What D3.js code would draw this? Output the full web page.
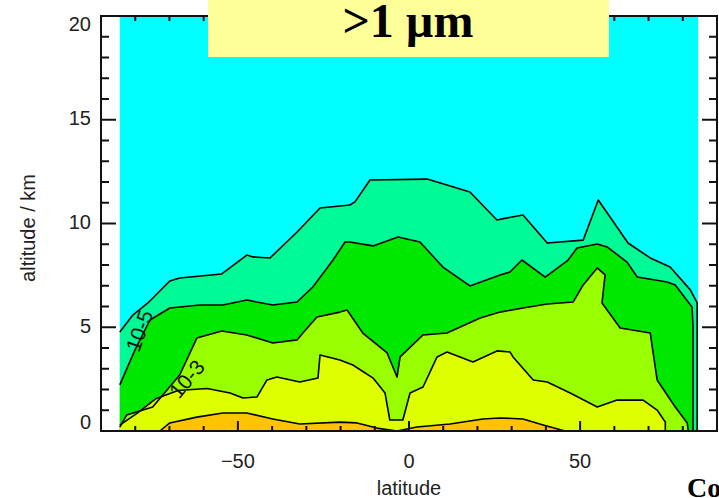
<!DOCTYPE html>
<html>
<head>
<meta charset="utf-8">
<script src="https://d3js.org/d3.v7.min.js"></script>
<style>
  body { margin: 0; background: #fff; }
  .tick-label { font-family: "Liberation Sans", Arial, sans-serif; font-size: 20px; fill: #222; }
</style>
</head>
<body>
<svg width="719" height="498"></svg>
<script>
// contour lines, [latitude, altitude km], bottom-up order of the bands they close
const contourA = [[-84.5,4.77],[-80.7,5.59],[-76.3,6.17],[-69.9,7.23],[-67.0,7.37],[-54.7,7.57],[-47.4,8.48],[-45.6,8.39],[-40.6,8.34],[-32.7,9.59],[-26.0,10.75],[-17.3,10.89],[-15.8,11.04],[-11.4,12.1],[5.3,12.14],[17.8,11.52],[25.7,10.17],[28.7,10.27],[33.3,10.41],[40.4,9.06],[50.9,9.2],[55.3,11.13],[64.0,9.06],[70.5,8.34],[76.3,7.9],[82.2,6.8],[84.2,6.17],[84.2,0]];
const contourB = [[-84.5,2.22],[-80.1,3.9],[-75.7,5.35],[-69.9,5.93],[-61.1,6.07],[-54.4,6.07],[-47.4,6.31],[-39.8,6.07],[-32.7,6.22],[-28.1,6.94],[-22.2,8.24],[-18.7,9.11],[-17.3,9.11],[-10.5,8.92],[-3.2,9.35],[3.2,9.11],[9.9,7.9],[17.8,6.99],[26.6,7.52],[29.5,7.66],[33.0,8.24],[39.8,7.42],[46.5,8.24],[49.1,8.82],[55.0,9.01],[57.9,8.87],[63.7,8.14],[66.7,7.42],[75.4,7.18],[77.8,7.04],[82.7,5.98],[83.0,5.01],[83.0,0]];
const contourC = [[-84.5,0.19],[-82.5,0.77],[-74.9,1.16],[-67.0,2.7],[-62.0,4.48],[-54.7,4.82],[-47.4,4.63],[-39.8,4.24],[-32.7,4.39],[-31.0,4.72],[-26.9,5.49],[-20.2,5.73],[-18.1,5.83],[-13.5,4.72],[-6.4,3.76],[-3.5,2.6],[-2.6,3.57],[4.1,4.63],[11.1,4.72],[20.8,5.45],[26.6,5.73],[33.3,5.93],[40.4,6.12],[48.0,6.22],[50.9,7.04],[55.0,7.86],[57.3,7.52],[56.4,6.17],[61.7,4.96],[70.5,4.72],[72.5,2.46],[77.8,1.16],[81.3,0.39],[81.6,0]];
const contourD = [[-84.5,0.28],[-79.5,0.85],[-74.0,1.55],[-67.5,1.95],[-59.0,2.05],[-52.3,1.83],[-48.5,1.59],[-44.4,1.64],[-41.5,2.46],[-38.6,2.6],[-31.9,2.36],[-26.6,2.55],[-26.0,3.66],[-20.2,3.42],[-16.4,3.18],[-10.5,2.55],[-7.0,1.83],[-5.6,0.53],[-1.8,0.53],[0.3,1.83],[4.1,2.12],[8.2,3.57],[11.1,3.81],[18.7,3.33],[25.7,3.86],[29.5,3.81],[30.4,3.57],[36.3,2.46],[40.4,2.36],[47.1,1.83],[55.0,1.16],[60.8,1.49],[68.4,1.49],[72.5,1.01],[74.9,0.43],[74.9,0]];
const contourE = [[-72.8,0],[-69.9,0.39],[-62.0,0.67],[-54.4,0.87],[-47.4,0.87],[-39.8,0.58],[-31.9,0.34],[-20.2,0.43],[-15.2,0.39],[-9.4,0.14],[-3.5,0],[2.3,0.19],[12.0,0.34],[21.6,0.58],[26.6,0.63],[33.3,0.58],[39.2,0.29],[45.6,0]];

const contours = [contourA, contourB, contourC, contourD, contourE];
const bandColors = ["#00fa96", "#00e800", "#99ff00", "#ddff00", "#ffc400"];
const topColor = "#00ffff";
const latRange = [-84.5, 84.5];

const contourLabels = [
  { text: "10-5", lat: -78.3, alt: 4.8, angle: -70 },
  { text: "10-3", lat: -64.5, alt: 2.45, angle: -50 }
];

const xTicks = [-50, 0, 50];
const yTicks = [0, 5, 10, 15, 20];
const titleText = ">1 \u00b5m";

const svg = d3.select("svg");
const x = d3.scaleLinear().domain([-90, 90]).range([101, 717]);
const y = d3.scaleLinear().domain([0, 20]).range([431, 16]);

// data background
svg.append("rect")
  .attr("x", x(latRange[0])).attr("y", y(20))
  .attr("width", x(latRange[1]) - x(latRange[0]))
  .attr("height", y(0) - y(20))
  .attr("fill", topColor);

const line = d3.line().x(d => x(d[0])).y(d => y(d[1]));

contours.forEach((c, i) => {
  const poly = [[c[0][0], 0], ...c, [c[c.length - 1][0], 0]];
  svg.append("path")
    .attr("d", line(poly) + "Z")
    .attr("fill", bandColors[i]);
});
contours.forEach(c => {
  svg.append("path")
    .attr("d", line(c))
    .attr("fill", "none")
    .attr("stroke", "#000")
    .attr("stroke-width", 1.6)
    .attr("stroke-linejoin", "round");
});

contourLabels.forEach(l => {
  svg.append("text")
    .attr("transform", `translate(${x(l.lat)},${y(l.alt)}) rotate(${l.angle})`)
    .attr("text-anchor", "middle")
    .attr("dominant-baseline", "middle")
    .attr("font-family", "Liberation Sans, Arial, sans-serif")
    .attr("font-size", 21)
    .attr("fill", "#111")
    .text(l.text);
});

// frame with ticks on all sides
const frame = svg.append("g").attr("stroke", "#111").attr("stroke-width", 2);
frame.append("rect")
  .attr("x", x(-90)).attr("y", y(20))
  .attr("width", x(90) - x(-90)).attr("height", y(0) - y(20))
  .attr("fill", "none");

d3.range(-90, 91, 10).forEach(v => {
  const len = v % 50 === 0 ? 10 : 5;
  frame.append("line").attr("x1", x(v)).attr("x2", x(v)).attr("y1", y(0)).attr("y2", y(0) - len);
  frame.append("line").attr("x1", x(v)).attr("x2", x(v)).attr("y1", y(20)).attr("y2", y(20) + len);
});
d3.range(0, 21, 1).forEach(v => {
  const len = v % 5 === 0 ? 15 : 8;
  frame.append("line").attr("x1", x(-90)).attr("x2", x(-90) + len).attr("y1", y(v)).attr("y2", y(v));
  frame.append("line").attr("x1", x(90)).attr("x2", x(90) - len).attr("y1", y(v)).attr("y2", y(v));
});

svg.selectAll(".ylab").data(yTicks).enter().append("text")
  .attr("class", "tick-label")
  .attr("x", 91)
  .attr("y", d => Math.min(Math.max(y(d), 26), 424))
  .attr("text-anchor", "end")
  .attr("dominant-baseline", "middle")
  .text(d => d);

svg.selectAll(".xlab").data(xTicks).enter().append("text")
  .attr("class", "tick-label")
  .attr("x", d => x(d))
  .attr("y", 468)
  .attr("text-anchor", "middle")
  .text(d => d < 0 ? "\u2212" + Math.abs(d) : d);

svg.append("text")
  .attr("class", "tick-label")
  .attr("transform", "translate(35,228) rotate(-90)")
  .attr("text-anchor", "middle")
  .text("altitude / km");

svg.append("text")
  .attr("class", "tick-label")
  .attr("x", 409).attr("y", 495)
  .attr("text-anchor", "middle")
  .text("latitude");

// title box
svg.append("rect")
  .attr("x", 208).attr("y", 0).attr("width", 401).attr("height", 57)
  .attr("fill", "#ffff99");
svg.append("text")
  .attr("x", 408).attr("y", 37)
  .attr("text-anchor", "middle")
  .attr("font-family", "Liberation Serif, Times New Roman, serif")
  .attr("font-weight", "bold")
  .attr("font-size", 48)
  .attr("fill", "#000")
  .text(titleText);

svg.append("text")
  .attr("x", 687).attr("y", 497)
  .attr("font-family", "Liberation Serif, Times New Roman, serif")
  .attr("font-weight", "bold")
  .attr("font-size", 28)
  .attr("fill", "#000")
  .text("Co");
</script>
</body>
</html>
